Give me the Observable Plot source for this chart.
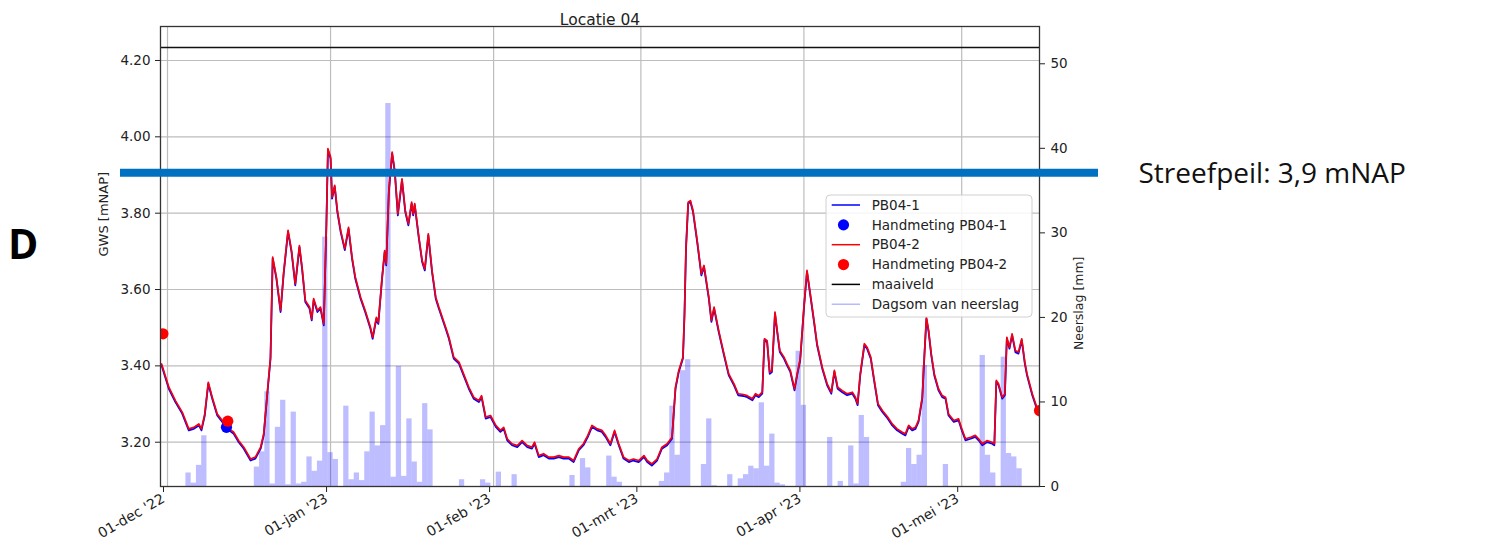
<!DOCTYPE html>
<html>
<head>
<meta charset="utf-8">
<script src="https://cdn.jsdelivr.net/npm/d3@7"></script>
<script src="https://cdn.jsdelivr.net/npm/@observablehq/plot@0.6"></script>
<style>
  body { margin: 0; background: #fff; }
  #wrap { position: relative; width: 1491px; height: 543px; }
  #panel { position: absolute; left: 8px; top: 215px; font: bold 41px "Open Sans", sans-serif; color: #000; }
  #legend { position: absolute; left: 825px; top: 194px; }
</style>
</head>
<body>
<div id="wrap"><div id="panel">D</div></div>
<script>
// ---------- data ----------
const title = "Locatie 04";
// PB04-2 grondwaterstand [mNAP] (PB04-1 runs practically on top of it)
const pb042 = [
  ["2022-11-29 21",3.405],["2022-12-01 06",3.344],["2022-12-02 12",3.309],["2022-12-03 19",3.279],
  ["2022-12-05 01",3.235],["2022-12-06 00",3.239],["2022-12-06 23",3.248],["2022-12-07 11",3.235],
  ["2022-12-08 02",3.274],["2022-12-08 18",3.357],["2022-12-09 12",3.318],["2022-12-10 11",3.274],
  ["2022-12-11 10",3.257],["2022-12-12 08",3.239],["2022-12-13 14",3.226],["2022-12-14 13",3.204],
  ["2022-12-15 12",3.187],["2022-12-16 19",3.156],["2022-12-17 17",3.161],["2022-12-18 17",3.187],
  ["2022-12-19 07",3.222],["2022-12-19 23",3.327],["2022-12-20 14",3.423],["2022-12-21 00",3.685],
  ["2022-12-21 17",3.632],["2022-12-22 12",3.545],["2022-12-23 02",3.645],["2022-12-23 22",3.755],
  ["2022-12-24 14",3.702],["2022-12-25 07",3.615],["2022-12-26 02",3.715],["2022-12-26 14",3.658],
  ["2022-12-27 05",3.571],["2022-12-28 00",3.554],["2022-12-28 10",3.523],["2022-12-28 19",3.576],
  ["2022-12-29 12",3.545],["2022-12-30 02",3.554],["2022-12-30 17",3.510],["2022-12-31 05",3.772],
  ["2022-12-31 12",3.969],["2023-01-01 00",3.947],["2023-01-01 07",3.842],["2023-01-01 19",3.873],
  ["2023-01-02 07",3.807],["2023-01-02 22",3.755],["2023-01-03 17",3.707],["2023-01-04 10",3.763],
  ["2023-01-05 02",3.685],["2023-01-05 17",3.632],["2023-01-06 17",3.580],["2023-01-07 14",3.545],
  ["2023-01-08 14",3.501],["2023-01-09 00",3.475],["2023-01-09 17",3.527],["2023-01-10 02",3.514],
  ["2023-01-10 19",3.632],["2023-01-11 07",3.702],["2023-01-11 14",3.667],["2023-01-12 02",3.859],
  ["2023-01-12 17",3.960],["2023-01-13 05",3.912],["2023-01-13 19",3.798],["2023-01-14 14",3.890],
  ["2023-01-15 05",3.807],["2023-01-15 19",3.772],["2023-01-16 10",3.829],["2023-01-16 17",3.798],
  ["2023-01-17 00",3.825],["2023-01-17 19",3.737],["2023-01-18 10",3.676],["2023-01-18 22",3.654],
  ["2023-01-19 14",3.746],["2023-01-20 07",3.650],["2023-01-21 00",3.580],["2023-01-21 14",3.554],
  ["2023-01-22 22",3.500],["2023-01-23 12",3.475],["2023-01-24 10",3.423],["2023-01-25 10",3.410],
  ["2023-01-26 07",3.379],["2023-01-27 07",3.344],["2023-01-28 05",3.318],["2023-01-29 05",3.309],
  ["2023-01-29 17",3.322],["2023-01-30 12",3.266],["2023-01-31 10",3.270],["2023-02-01 10",3.244],
  ["2023-02-02 07",3.231],["2023-02-02 22",3.239],["2023-02-03 14",3.209],["2023-02-04 12",3.196],
  ["2023-02-05 12",3.191],["2023-02-06 10",3.204],["2023-02-07 10",3.191],["2023-02-08 07",3.187],
  ["2023-02-08 19",3.200],["2023-02-09 14",3.165],["2023-02-10 12",3.170],["2023-02-11 12",3.161],
  ["2023-02-12 10",3.161],["2023-02-13 10",3.165],["2023-02-14 07",3.161],["2023-02-15 07",3.161],
  ["2023-02-16 05",3.152],["2023-02-17 05",3.183],["2023-02-18 02",3.196],["2023-02-18 22",3.218],
  ["2023-02-19 17",3.244],["2023-02-20 17",3.235],["2023-02-21 14",3.231],["2023-02-22 07",3.218],
  ["2023-02-23 05",3.196],["2023-02-24 00",3.231],["2023-02-24 19",3.196],["2023-02-25 17",3.161],
  ["2023-02-26 17",3.152],["2023-02-27 14",3.156],["2023-02-28 14",3.152],["2023-03-01 14",3.165],
  ["2023-03-02 05",3.152],["2023-03-03 02",3.143],["2023-03-04 02",3.156],["2023-03-05 00",3.187],
  ["2023-03-06 00",3.196],["2023-03-06 22",3.213],["2023-03-07 14",3.344],["2023-03-08 05",3.388],
  ["2023-03-09 00",3.423],["2023-03-09 07",3.536],["2023-03-09 14",3.711],["2023-03-10 00",3.829],
  ["2023-03-10 10",3.833],["2023-03-10 22",3.807],["2023-03-11 17",3.728],["2023-03-12 12",3.641],
  ["2023-03-13 00",3.663],["2023-03-13 22",3.580],["2023-03-14 10",3.519],["2023-03-14 22",3.554],
  ["2023-03-15 19",3.493],["2023-03-16 19",3.432],["2023-03-17 17",3.379],["2023-03-18 17",3.353],
  ["2023-03-19 12",3.327],["2023-03-20 12",3.325],["2023-03-21 05",3.322],["2023-03-22 05",3.314],
  ["2023-03-22 19",3.327],["2023-03-23 10",3.322],["2023-03-24 02",3.331],["2023-03-24 12",3.471],
  ["2023-03-25 00",3.466],["2023-03-25 12",3.383],["2023-03-25 22",3.388],["2023-03-26 12",3.541],
  ["2023-03-26 22",3.493],["2023-03-27 10",3.440],["2023-03-28 05",3.423],["2023-03-28 19",3.405],
  ["2023-03-29 10",3.388],["2023-03-30 05",3.340],["2023-03-30 17",3.379],["2023-03-31 07",3.418],
  ["2023-04-01 00",3.554],["2023-04-01 14",3.650],["2023-04-02 05",3.589],["2023-04-02 22",3.519],
  ["2023-04-03 12",3.458],["2023-04-04 12",3.396],["2023-04-05 10",3.353],["2023-04-06 05",3.331],
  ["2023-04-06 19",3.388],["2023-04-07 10",3.344],["2023-04-08 07",3.335],["2023-04-09 05",3.327],
  ["2023-04-10 05",3.331],["2023-04-10 19",3.318],["2023-04-11 05",3.301],["2023-04-11 17",3.379],
  ["2023-04-12 12",3.458],["2023-04-13 00",3.449],["2023-04-13 17",3.423],["2023-04-14 07",3.370],
  ["2023-04-15 02",3.301],["2023-04-15 22",3.283],["2023-04-16 22",3.266],["2023-04-17 19",3.248],
  ["2023-04-18 17",3.235],["2023-04-19 17",3.226],["2023-04-20 07",3.222],["2023-04-20 22",3.244],
  ["2023-04-21 14",3.235],["2023-04-22 05",3.239],["2023-04-22 19",3.257],["2023-04-23 12",3.318],
  ["2023-04-23 22",3.432],["2023-04-24 07",3.527],["2023-04-24 17",3.493],["2023-04-25 05",3.432],
  ["2023-04-25 19",3.379],["2023-04-26 14",3.340],["2023-04-27 07",3.322],["2023-04-27 22",3.318],
  ["2023-04-28 12",3.274],["2023-04-29 12",3.257],["2023-04-30 10",3.261],["2023-04-30 22",3.239],
  ["2023-05-01 17",3.209],["2023-05-02 17",3.213],["2023-05-03 14",3.218],["2023-05-04 05",3.209],
  ["2023-05-04 22",3.196],["2023-05-05 19",3.204],["2023-05-06 19",3.200],["2023-05-07 05",3.196],
  ["2023-05-07 14",3.362],["2023-05-08 00",3.353],["2023-05-08 17",3.318],["2023-05-09 05",3.327],
  ["2023-05-09 14",3.475],["2023-05-10 02",3.449],["2023-05-10 14",3.484],["2023-05-11 05",3.440],
  ["2023-05-11 19",3.436],["2023-05-12 10",3.471],["2023-05-13 00",3.410],["2023-05-13 10",3.379],
  ["2023-05-14 10",3.327],["2023-05-15 17",3.274]
];
const pb041 = pb042; // PB04-1 coincides with PB04-2 within the line width
// Handmetingen [mNAP]
const hand1 = [["2022-12-12 05",3.239]];
const hand2 = [["2022-11-30 03",3.484],["2022-12-12 11",3.255],["2023-05-15 19",3.283]];
// Dagsom van neerslag [mm]
const rain = [
  ["2022-12-05",1.6],["2022-12-06",0.4],["2022-12-07",2.5],["2022-12-08",6.0],
  ["2022-12-18",2.3],["2022-12-19",4.1],["2022-12-20",11.2],["2022-12-21",0.3],["2022-12-22",7.0],
  ["2022-12-23",10.2],["2022-12-24",0.2],["2022-12-25",8.8],["2022-12-26",0.3],["2022-12-27",0.5],
  ["2022-12-28",3.5],["2022-12-29",1.8],["2022-12-30",3.0],["2022-12-31",29.5],["2023-01-01",4.0],
  ["2023-01-02",3.2],["2023-01-04",9.5],["2023-01-05",0.8],["2023-01-06",1.6],["2023-01-07",0.7],
  ["2023-01-08",4.1],["2023-01-09",8.8],["2023-01-10",4.8],["2023-01-11",7.2],["2023-01-12",45.3],
  ["2023-01-13",1.1],["2023-01-14",14.2],["2023-01-15",1.2],["2023-01-16",8.0],["2023-01-17",2.9],
  ["2023-01-18",0.5],["2023-01-19",9.8],["2023-01-20",6.7],["2023-01-26",0.8],["2023-01-30",0.8],
  ["2023-01-31",0.4],["2023-02-02",1.7],["2023-02-05",1.4],["2023-02-16",1.3],["2023-02-18",3.3],
  ["2023-02-19",2.2],["2023-02-23",3.6],["2023-02-24",1.1],["2023-02-25",0.5],["2023-03-05",0.6],
  ["2023-03-06",1.6],["2023-03-07",9.5],["2023-03-08",3.7],["2023-03-09",13.7],["2023-03-10",15.0],
  ["2023-03-13",2.6],["2023-03-14",8.0],["2023-03-15",0.1],["2023-03-18",1.4],["2023-03-20",0.9],
  ["2023-03-21",1.4],["2023-03-22",2.4],["2023-03-23",2.1],["2023-03-24",9.9],["2023-03-25",2.4],
  ["2023-03-26",6.2],["2023-03-27",0.4],["2023-03-28",0.2],["2023-03-31",16.0],["2023-04-01",9.6],
  ["2023-04-06",5.8],["2023-04-08",0.6],["2023-04-10",4.8],["2023-04-11",0.3],["2023-04-12",8.4],
  ["2023-04-13",5.8],["2023-04-20",0.5],["2023-04-21",4.5],["2023-04-22",2.6],["2023-04-23",3.7],
  ["2023-04-24",14.3],["2023-04-28",2.6],["2023-05-05",15.5],["2023-05-06",3.7],["2023-05-07",1.6],
  ["2023-05-09",15.3],["2023-05-10",3.9],["2023-05-11",3.5],["2023-05-12",2.1]
];
const maaiveld = 4.234;
const streefpeil = 3.9;
const streefLabel = "Streefpeil: 3,9 mNAP";
const gwsTicks = [3.2, 3.4, 3.6, 3.8, 4.0, 4.2];
const rainTicks = [0, 10, 20, 30, 40, 50];
const xTickDates = ["2022-12-01","2023-01-01","2023-02-01","2023-03-01","2023-04-01","2023-05-01"];
const xTickLabels = ["01-dec '22","01-jan '23","01-feb '23","01-mrt '23","01-apr '23","01-mei '23"];
const legendItems = [
  {label: "PB04-1", kind: "line", color: "blue"},
  {label: "Handmeting PB04-1", kind: "dot", color: "blue"},
  {label: "PB04-2", kind: "line", color: "red"},
  {label: "Handmeting PB04-2", kind: "dot", color: "red"},
  {label: "maaiveld", kind: "line", color: "black"},
  {label: "Dagsom van neerslag", kind: "line", color: "#b9b9ff"}
];

// ---------- build ----------
const parseT = d3.utcParse("%Y-%m-%d %H");
const parseD = d3.utcParse("%Y-%m-%d");
const toPts = arr => arr.map(([t, v]) => ({t: parseT(t), v}));
const line2 = toPts(pb042), line1 = toPts(pb041);
const dots1 = toPts(hand1), dots2 = toPts(hand2);
const rainData = rain.map(([d, mm]) => ({d: parseD(d), mm}));
const xTicks = xTickDates.map(parseD);
const xLabelOf = new Map(xTicks.map((d, i) => [+d, xTickLabels[i]]));

const Y0 = 3.084, Y1 = 4.289, RMAX = 54.41;
const r2y = mm => Y0 + mm * (Y1 - Y0) / RMAX;
const y2r = y => (y - Y0) * RMAX / (Y1 - Y0);

const chart = Plot.plot({
  width: 1491, height: 543,
  marginLeft: 160, marginRight: 452, marginTop: 26, marginBottom: 57,
  style: {fontFamily: "DejaVu Sans", fontSize: "13.5px", color: "#222", background: "white", overflow: "visible"},
  x: {type: "utc", domain: [parseT("2022-11-29 16"), parseT("2023-05-15 19")]},
  y: {domain: [Y0, Y1]},
  marks: [
    Plot.gridY(gwsTicks, {stroke: "#bdbdbd", strokeOpacity: 1, strokeWidth: 1.2}),
    Plot.gridX(xTicks, {stroke: "#bdbdbd", strokeOpacity: 1, strokeWidth: 1.2}),
    Plot.rect(rainData, {
      x1: d => d3.utcHour.offset(d.d, -12), x2: d => d3.utcHour.offset(d.d, 12),
      y1: Y0, y2: d => r2y(d.mm), fill: "#0000ff", fillOpacity: 0.26
    }),
    Plot.ruleY([maaiveld], {stroke: "#111", strokeWidth: 1.3}),
    Plot.line(line1, {x: "t", y: "v", stroke: "blue", strokeWidth: 1.8, dy: 1.5}),
    Plot.line(line2, {x: "t", y: "v", stroke: "#f00010", strokeWidth: 1.7}),
    Plot.dot(dots1, {x: "t", y: "v", r: 5.6, fill: "blue", clip: true}),
    Plot.dot(dots2, {x: "t", y: "v", r: 5.6, fill: "red", clip: true}),
    Plot.frame({stroke: "#333", strokeWidth: 1.3}),
    Plot.axisY(gwsTicks, {anchor: "left", tickSize: 5, tickPadding: 5, tickFormat: d3.format(".2f"), label: null}),
    Plot.axisY(rainTicks.map(r2y), {anchor: "right", tickSize: 5, tickPadding: 6, tickFormat: y => String(Math.round(y2r(y))), label: null}),
    Plot.axisX(xTicks, {anchor: "bottom", tickSize: 5, tickPadding: 5, tickRotate: -30, fontSize: 14,
      dx: -4, dy: 1, tickFormat: d => xLabelOf.get(+d), label: null}),
    Plot.text([title], {frameAnchor: "top", dy: -13, fontSize: 15.5, fill: "#222"}),
    Plot.text(["GWS [mNAP]"], {frameAnchor: "left", dx: -57, rotate: -90, fontSize: 13, fill: "#222"}),
    Plot.text(["Neerslag [mm]"], {frameAnchor: "right", dx: 39, rotate: -90, fontSize: 12.5, fill: "#222"}),
    Plot.ruleY([streefpeil], {stroke: "#0070C0", strokeWidth: 8, insetLeft: -40, insetRight: -59, dy: -2.3}),
    Plot.text([streefpeil], {y: d => d, text: () => streefLabel, frameAnchor: "right", dx: 99, dy: -1,
      textAnchor: "start", fontSize: 28, fontFamily: "Open Sans", fill: "#111"})
  ]
});
const wrap = document.getElementById("wrap");
wrap.insertBefore(chart, wrap.firstChild);

// legend (matplotlib-style box)
const lg = d3.select(wrap).append("svg").attr("id", "legend").attr("width", 210).attr("height", 126);
lg.append("rect").attr("x", 1).attr("y", 1).attr("width", 206).attr("height", 122).attr("rx", 4)
  .attr("fill", "white").attr("fill-opacity", 0.85).attr("stroke", "#d0d0d0");
legendItems.forEach((it, i) => {
  const cy = 11 + 19.85 * i;
  if (it.kind === "line") {
    lg.append("line").attr("x1", 6.7).attr("x2", 35).attr("y1", cy).attr("y2", cy)
      .attr("stroke", it.color).attr("stroke-width", 1.5);
  } else {
    lg.append("circle").attr("cx", 18.5).attr("cy", cy).attr("r", 5.6).attr("fill", it.color);
  }
  lg.append("text").attr("x", 46.7).attr("y", cy).attr("dy", "0.35em")
    .attr("font-family", "DejaVu Sans").attr("font-size", 13.5).attr("fill", "#222").text(it.label);
});
</script>
</body>
</html>
